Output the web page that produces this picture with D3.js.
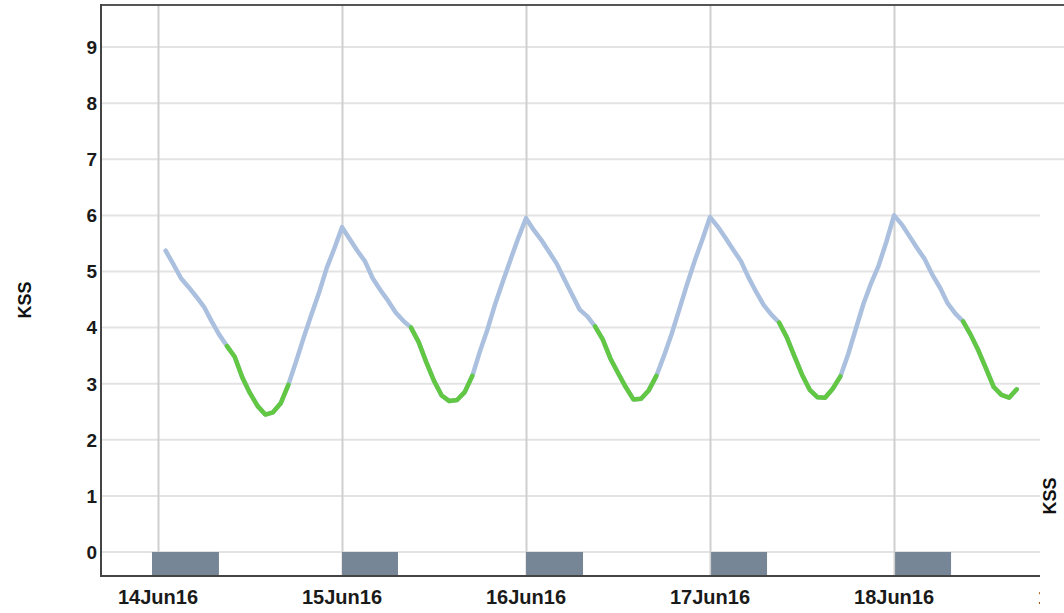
<!DOCTYPE html>
<html><head><meta charset="utf-8">
<script src="https://cdn.jsdelivr.net/npm/d3@7"></script>
<style>body{margin:0;background:#fff;overflow:hidden}</style>
</head><body>
<svg id="chart" width="1064" height="613"></svg>
<script>
// ---- data ----
const kssStart = "2016-06-14T01:00"; // hourly samples from here
const kssValues = [
  5.37,5.13,4.88,4.72,4.55,4.37,4.11,3.87,3.67,3.48,3.11,2.83,2.60,2.45,2.49,2.65,2.98,3.39,3.82,4.23,4.62,5.06,5.41,
  5.79,5.58,5.37,5.18,4.88,4.67,4.48,4.27,4.12,4.00,3.74,3.38,3.05,2.79,2.69,2.71,2.85,3.14,3.58,3.98,4.43,4.83,5.22,5.60,
  5.95,5.74,5.56,5.35,5.14,4.86,4.59,4.32,4.20,4.02,3.79,3.45,3.19,2.94,2.72,2.73,2.88,3.14,3.50,3.89,4.33,4.77,5.19,5.57,
  5.97,5.80,5.60,5.39,5.19,4.90,4.64,4.40,4.23,4.09,3.83,3.49,3.16,2.89,2.76,2.75,2.91,3.13,3.52,3.97,4.42,4.79,5.11,5.53,
  6.00,5.84,5.63,5.42,5.22,4.94,4.71,4.43,4.25,4.11,3.87,3.59,3.27,2.94,2.80,2.75,2.90
];
const dayTicks = ["2016-06-14T00:00","2016-06-15T00:00","2016-06-16T00:00","2016-06-17T00:00","2016-06-18T00:00","2016-06-19T00:00"];
const dayLabels = ["14Jun16","15Jun16","16Jun16","17Jun16","18Jun16","19Jun16"];
const sleepStarts = ["2016-06-13T23:13","2016-06-15T00:00","2016-06-16T00:00","2016-06-17T00:08","2016-06-18T00:08"];
const sleepEnds   = ["2016-06-14T07:57","2016-06-15T07:18","2016-06-16T07:26","2016-06-17T07:26","2016-06-18T07:26"];
const workHours = [9, 17]; // highlighted (green) part of each day
const yTicks = [0,1,2,3,4,5,6,7,8,9];
const xDomain = ["2016-06-13T16:34","2016-06-18T19:02"];
const yDomain = [-0.428, 9.75];

// ---- setup ----
const parse = d3.timeParse("%Y-%m-%dT%H:%M");
const svg = d3.select("#chart");
const L = 101, R = 1040, T = 5, B = 576;
const x = d3.scaleTime().domain(xDomain.map(parse)).range([L, R]);
const y = d3.scaleLinear().domain(yDomain).range([B, T]);

svg.append("defs").append("clipPath").attr("id", "labclip")
  .append("rect").attr("x", 0).attr("y", 0).attr("width", R).attr("height", 613);

const t0 = parse(kssStart);
const points = kssValues.map((v, i) => ({t: d3.timeHour.offset(t0, i), v}));

// horizontal grid
svg.append("g").selectAll("line").data(yTicks).join("line")
  .attr("x1", L).attr("x2", d => d >= 7 ? 1064 : R)
  .attr("y1", d => y(d)).attr("y2", d => y(d))
  .attr("stroke", "#e3e3e3").attr("stroke-width", 2);

// vertical grid
const dayDates = dayTicks.map(parse);
svg.append("g").selectAll("line").data(dayDates.filter(d => x(d) <= R)).join("line")
  .attr("x1", d => Math.round(x(d)) + 0.5).attr("x2", d => Math.round(x(d)) + 0.5)
  .attr("y1", T).attr("y2", B)
  .attr("stroke", "#cfcfcf").attr("stroke-width", 2);

// sleep bars
svg.append("g").selectAll("rect").data(sleepStarts.map((s, i) => [parse(s), parse(sleepEnds[i])])).join("rect")
  .attr("x", d => x(d[0])).attr("width", d => x(d[1]) - x(d[0]))
  .attr("y", y(0)).attr("height", B - y(0))
  .attr("fill", "#778696");

// lines
const line = d3.line().x(d => x(d.t)).y(d => y(d.v));
svg.append("path").datum(points).attr("d", line)
  .attr("fill", "none").attr("stroke", "#aac0de").attr("stroke-width", 4.5)
  .attr("stroke-linejoin", "round").attr("stroke-linecap", "round");

const days = d3.group(points.filter(p => p.t.getHours() >= workHours[0] && p.t.getHours() <= workHours[1]),
  p => d3.timeDay.floor(p.t).getTime());
svg.append("g").selectAll("path").data(Array.from(days.values())).join("path")
  .attr("d", line).attr("fill", "none").attr("stroke", "#62c844").attr("stroke-width", 4.5)
  .attr("stroke-linejoin", "round").attr("stroke-linecap", "round");

// frame
svg.append("line").attr("x1", L).attr("x2", 1064).attr("y1", T).attr("y2", T)
  .attr("stroke", "#555").attr("stroke-width", 2);
svg.append("line").attr("x1", L).attr("x2", L).attr("y1", T - 1).attr("y2", B + 1)
  .attr("stroke", "#444").attr("stroke-width", 2);
svg.append("line").attr("x1", L).attr("x2", R).attr("y1", B).attr("y2", B)
  .attr("stroke", "#444").attr("stroke-width", 2);

// y tick labels
svg.append("g").selectAll("text").data(yTicks).join("text")
  .attr("x", 97).attr("y", d => y(d)).attr("dy", "0.36em")
  .attr("text-anchor", "end").attr("font-family", "Liberation Sans, Arial, sans-serif")
  .attr("font-weight", "bold").attr("font-size", 19).attr("fill", "#1a1a1a")
  .text(d => d);

// x tick labels (the last one is cut by the plot edge, as in the source)
svg.append("g").attr("clip-path", "url(#labclip)").selectAll("text").data(dayDates).join("text")
  .attr("x", d => x(d)).attr("y", 604)
  .attr("text-anchor", "middle").attr("font-family", "Liberation Sans, Arial, sans-serif")
  .attr("font-weight", "bold").attr("font-size", 20).attr("fill", "#1a1a1a")
  .text((d, i) => dayLabels[i]);

// cover on the right
svg.append("rect").attr("x", R + 1).attr("y", 185).attr("width", 1064 - R).attr("height", 613 - 185).attr("fill", "#fff");

// axis titles
svg.append("text").attr("transform", "translate(31,300) rotate(-90)")
  .attr("text-anchor", "middle").attr("font-family", "Liberation Sans, Arial, sans-serif")
  .attr("font-weight", "bold").attr("font-size", 18).attr("fill", "#111").text("KSS");
svg.append("text").attr("transform", "translate(1056,496) rotate(-90)")
  .attr("text-anchor", "middle").attr("font-family", "Liberation Sans, Arial, sans-serif")
  .attr("font-weight", "bold").attr("font-size", 18).attr("fill", "#111").text("KSS");
</script>
</body></html>
